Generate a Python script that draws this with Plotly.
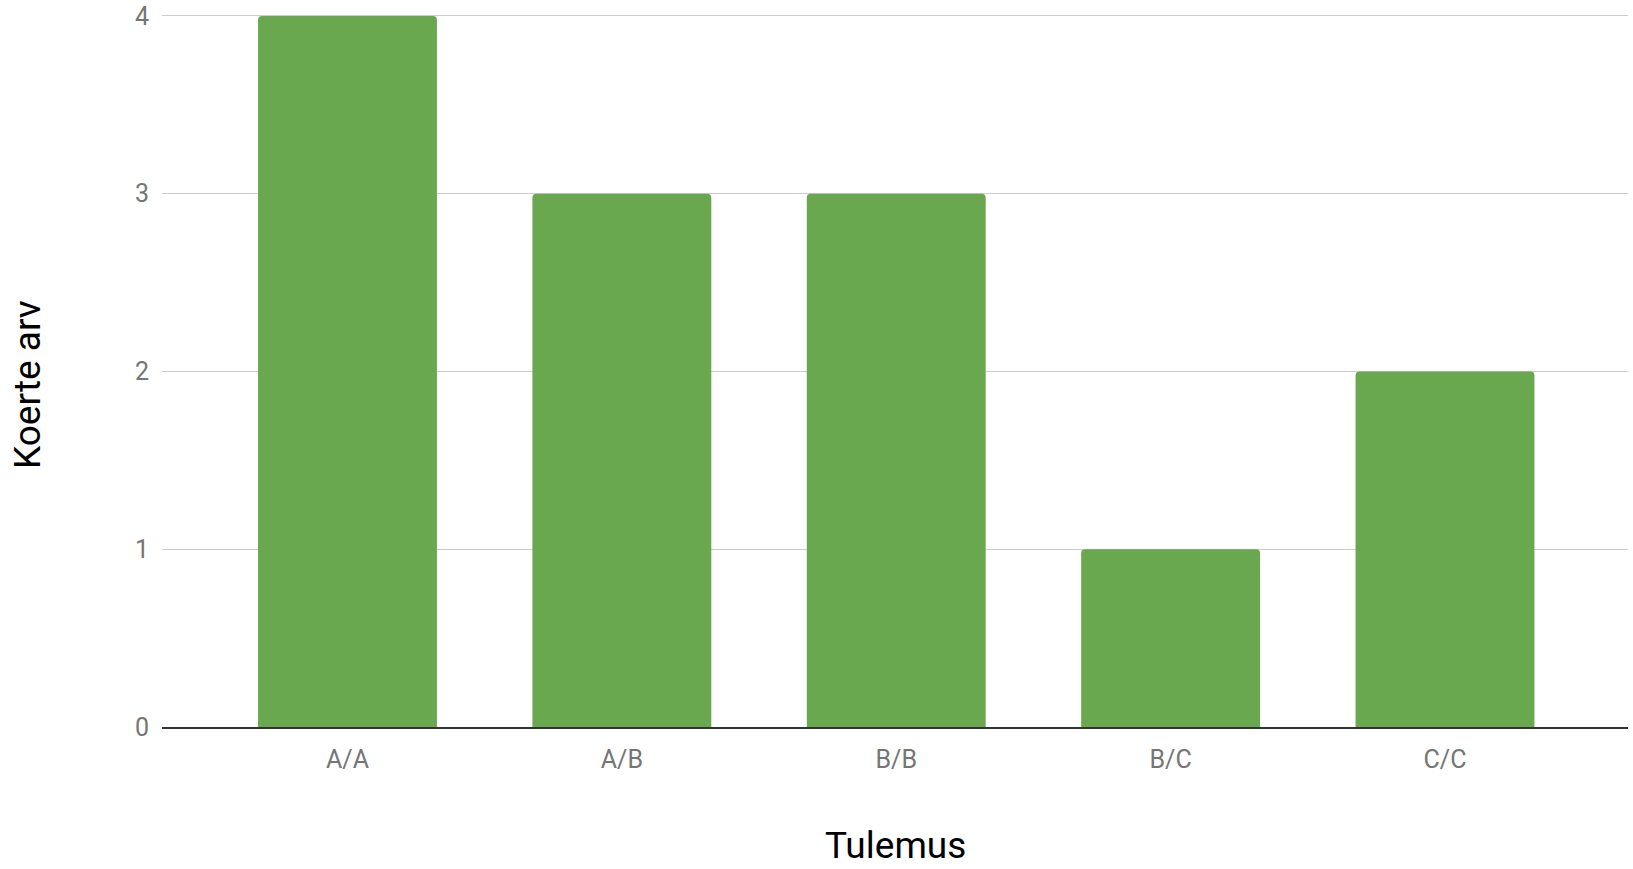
import plotly.graph_objects as go

categories = ["A/A", "A/B", "B/B", "B/C", "C/C"]
values = [4, 3, 3, 1, 2]
y_ticks = [0, 1, 2, 3, 4]
x_title = "Tulemus"
y_title = "Koerte arv"

fig = go.Figure(
    go.Bar(
        x=categories,
        y=values,
        marker=dict(color="#6aa84f", line=dict(width=0)),
        hoverinfo="x+y",
    )
)

fig.update_layout(
    width=1633,
    height=869,
    margin=dict(l=162, r=5, t=11, b=142, autoexpand=False),
    plot_bgcolor="white",
    paper_bgcolor="white",
    font=dict(family="Roboto", color="#757575", size=25),
    bargap=0.348,
    barcornerradius=4,
    showlegend=False,
)

fig.update_xaxes(
    type="category",
    range=[-0.676, 4.667],
    showgrid=False,
    showline=True,
    linecolor="#333333",
    linewidth=2,
    ticks="",
    ticklabelstandoff=9,
    tickfont=dict(size=25, color="#757575"),
    automargin=False,
)

fig.update_yaxes(
    range=[0, 4.028],
    tickvals=y_ticks,
    showgrid=True,
    gridcolor="#cccccc",
    gridwidth=1,
    zeroline=False,
    showline=False,
    ticks="",
    ticklabelstandoff=12,
    ticklabeloverflow="allow",
    tickfont=dict(size=25, color="#757575"),
    automargin=False,
)

fig.add_annotation(
    text=x_title,
    xref="paper",
    yref="paper",
    x=0.5,
    y=-0.1655,
    xanchor="center",
    yanchor="middle",
    showarrow=False,
    font=dict(size=37, color="#000000"),
)

fig.add_annotation(
    text=y_title,
    xref="paper",
    yref="paper",
    x=-0.0914,
    y=0.4777,
    xanchor="center",
    yanchor="middle",
    textangle=-90,
    showarrow=False,
    font=dict(size=37, color="#000000"),
)

# remove the default page margin so the figure fills the window exactly
fig.write_html(
    "out.html",
    config={"displayModeBar": False},
    post_script="document.body.style.margin='0';document.body.style.overflow='hidden';",
)
